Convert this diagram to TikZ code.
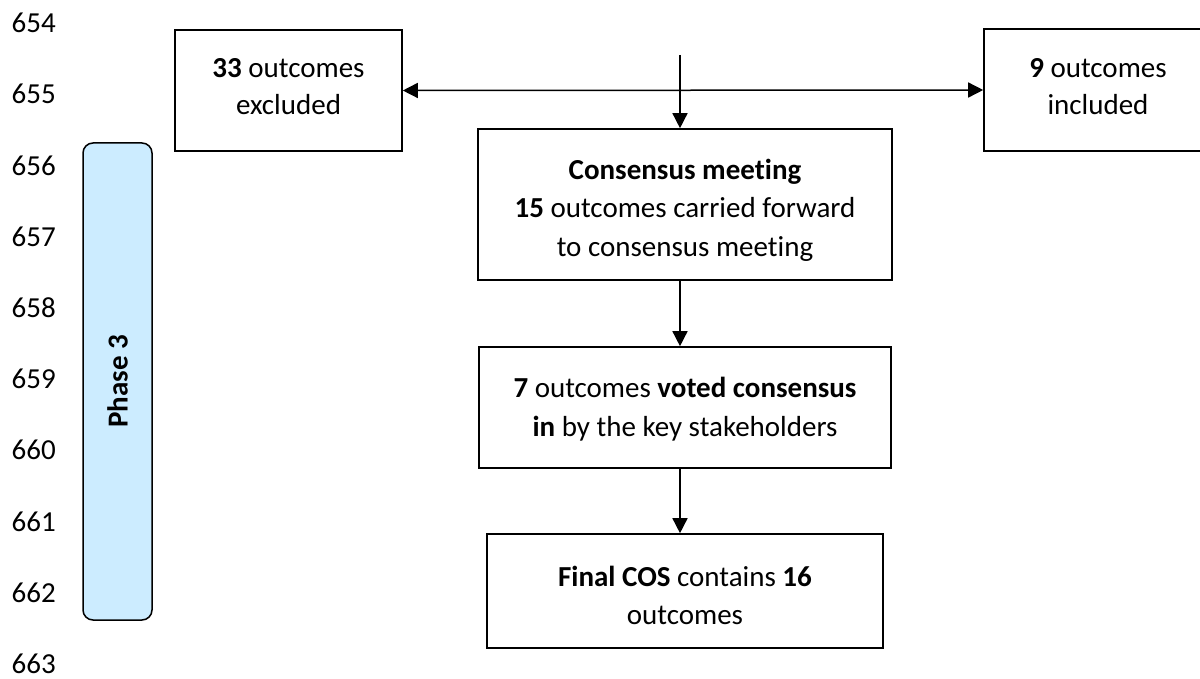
\documentclass[tikz,border=0pt]{standalone}
\usepackage{fontspec}
\setmainfont{Carlito}[Ligatures=NoCommon, RawFeature={-liga;-clig;-dlig}]
\usetikzlibrary{arrows.meta}
\definecolor{phaseblue}{RGB}{204,236,255}
\tikzset{
  stepbox/.style={draw=black, line width=1.6pt, fill=white, inner sep=0pt},
  boxtext/.style={inner sep=0pt, align=center, font=\fontsize{29}{38.5}\selectfont},
  linenum/.style={anchor=east, inner sep=0pt, font=\fontsize{29}{38.5}\selectfont},
  flow/.style={line width=1.5pt, -{Triangle[length=15pt,width=15pt]}},
  both/.style={line width=1.5pt, {Triangle[length=15pt,width=15pt]}-{Triangle[length=15pt,width=15pt]}},
  phasebar/.style={draw=black, line width=1.5pt, fill=phaseblue, rounded corners=10pt,
    minimum width=69pt, minimum height=477pt, inner sep=0pt}
}
\begin{document}
\begin{tikzpicture}[x=1pt,y=-1pt]
\useasboundingbox[fill=white] (0,0) rectangle (1200,679);
% line numbers
\foreach \n [count=\i from 0] in {654,...,663} {
  \node[linenum] (ln\n) at (56,{23+71.2*\i}) {\n};
}
% phase bar
\node[phasebar] (phase) at (117.5,381.5) {};
\node[rotate=90, font=\fontsize{29}{38.5}\selectfont\bfseries] (phaselabel) at (phase.center) {Phase 3};
% boxes
\node[stepbox, minimum width=227pt, minimum height=121pt] (excl) at (288.5,90.5) {};
\node[boxtext, font=\fontsize{29}{37}\selectfont] (excltext) at (288.5,86.5) {\textbf{33} outcomes\\excluded};
\node[stepbox, minimum width=228pt, minimum height=122pt] (incl) at (1098,90) {};
\node[boxtext, font=\fontsize{29}{37}\selectfont] (incltext) at (1098,86.5) {\textbf{9} outcomes\\included};
\node[stepbox, minimum width=414pt, minimum height=151pt] (cm) at (685,204.5) {};
\node[boxtext] (cmtext) at (685,210)
  {\textbf{Consensus meeting}\\\textbf{15} outcomes carried forward\\to consensus meeting};
\node[stepbox, minimum width=412pt, minimum height=121pt] (vote) at (685,407.5) {};
\node[boxtext] (votetext) at (685,409)
  {\textbf{7} outcomes \textbf{voted consensus}\\\textbf{in} by the key stakeholders};
\node[stepbox, minimum width=396pt, minimum height=114pt] (final) at (685,591) {};
\node[boxtext] (finaltext) at (685,595.5)
  {\textbf{Final COS} contains \textbf{16}\\outcomes};
% connectors
\coordinate (top) at (680,55);
\draw[both] (excl.east) -- (incl.west);
\draw[flow] (top) -- (top |- cm.north);
\draw[flow] (top |- cm.south) -- (top |- vote.north);
\draw[flow] (top |- vote.south) -- (top |- final.north);
\end{tikzpicture}
\end{document}
